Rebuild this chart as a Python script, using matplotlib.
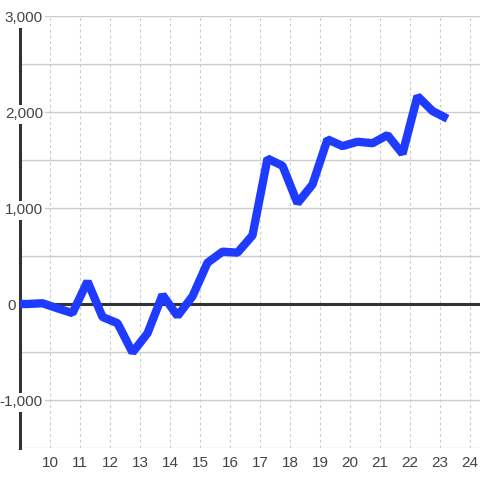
import matplotlib
matplotlib.use("Agg")
import matplotlib.pyplot as plt
from matplotlib.ticker import MultipleLocator

plt.rcParams["font.family"] = ["Liberation Sans", "DejaVu Sans"]

# Hour of day and cumulative value
hours = [9.0, 9.25, 9.75, 10.25, 10.75, 11.25, 11.75, 12.25, 12.75, 13.25,
         13.75, 14.25, 14.75, 15.25, 15.75, 16.25, 16.75, 17.25, 17.75, 18.25,
         18.75, 19.25, 19.75, 20.25, 20.75, 21.25, 21.75, 22.25, 22.75, 23.25]
values = [0, 0, 8, -45, -95, 235, -135, -200, -505, -305,
          95, -125, 80, 430, 545, 535, 715, 1515, 1440, 1050,
          1245, 1715, 1645, 1690, 1675, 1760, 1565, 2165, 2010, 1930]

y_labels = [3000, 2000, 1000, 0, -1000]
x_labels = list(range(10, 25))

text_color = "#444444"
grid_color = "#cccccc"
axis_color = "#333333"

fig = plt.figure(figsize=(4.8, 4.8), dpi=100)
ax = fig.add_axes([20 / 480, 32 / 480, 460 / 480, 432 / 480])
ax.set_xlim(9.0, 9.0 + 460 / 30)
ax.set_ylim(-1500, 3000)

for s in ["top", "right", "bottom"]:
    ax.spines[s].set_visible(False)
ax.spines["left"].set_color(axis_color)
ax.spines["left"].set_linewidth(2.2)
ax.spines["left"].set_zorder(2)

ax.yaxis.set_major_locator(MultipleLocator(500))
ax.xaxis.set_major_locator(MultipleLocator(1))
ax.tick_params(left=False, bottom=False, labelleft=False, labelbottom=False)
ax.grid(True, axis="y", color=grid_color, linewidth=1.0)
ax.set_axisbelow(True)
for xv in x_labels:
    ax.axvline(xv, color=grid_color, linewidth=0.8, linestyle=(0, (2.6, 2.6)), zorder=0.5)

ax.axhline(0, color=axis_color, linewidth=2.2, zorder=2)

ax.plot(hours, values, color="#1f3bff", linewidth=6.0,
        solid_joinstyle="bevel", solid_capstyle="butt", zorder=3)

ytr = ax.get_yaxis_transform()
px = 4500 / 432
for v in y_labels:
    right = -4 / 460 if v == 0 else 23 / 460
    ax.text(right, v - 6.5 * px, f"{v:,}", transform=ytr, ha="right", va="baseline",
            fontsize=11, color=text_color, zorder=5, clip_on=False,
            bbox=dict(facecolor="white", edgecolor="none", pad=1.5))

xtr = ax.get_xaxis_transform()
for h in x_labels:
    ax.text(h, -19 / 432, str(h), transform=xtr, ha="center", va="baseline",
            fontsize=11, color=text_color, clip_on=False)

fig.savefig("out.png", dpi=100, facecolor="white")
